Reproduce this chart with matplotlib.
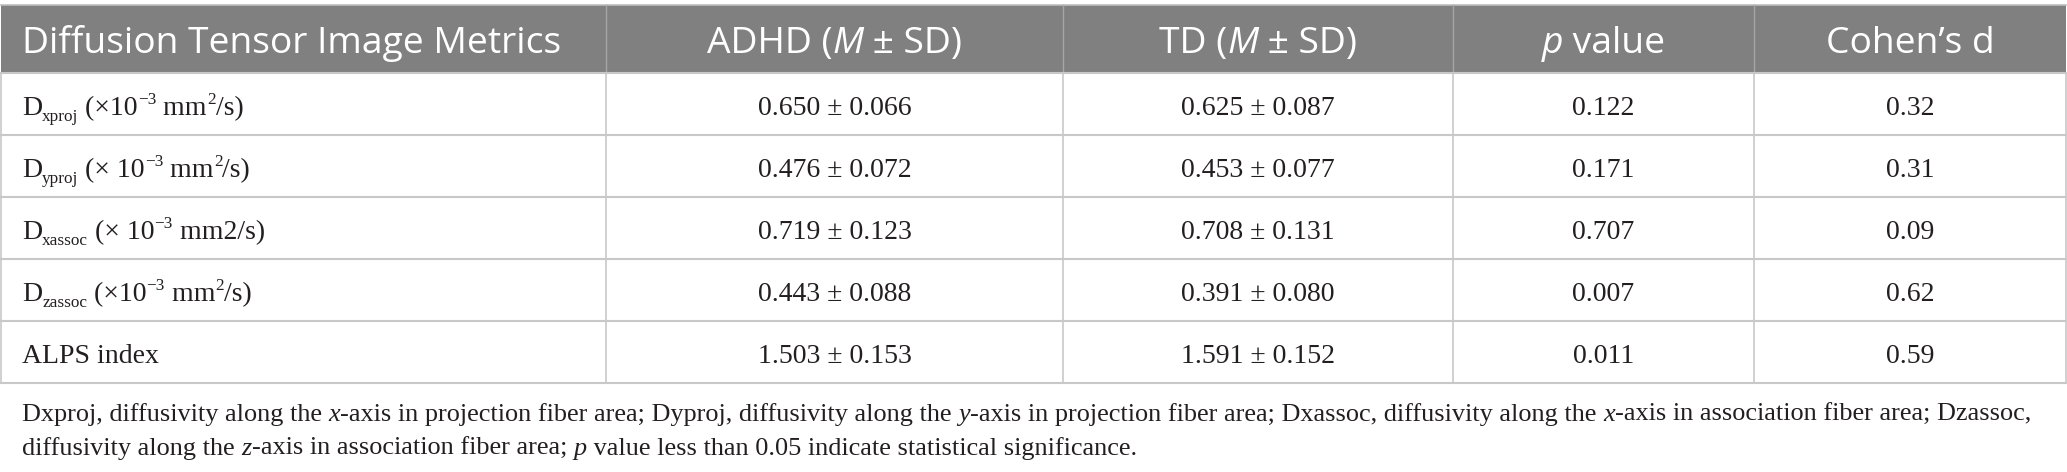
import re
import matplotlib
matplotlib.use("Agg")
import matplotlib.pyplot as plt
from matplotlib.patches import Rectangle

W, H = 2067, 472

# table content
headers = ["Diffusion Tensor Image Metrics", "ADHD (*M* ± SD)", "TD (*M* ± SD)", "*p* value", "Cohen’s d"]
metrics = [
    "D_{xproj} (×10^{−3} mm^{2}/s)",
    "D_{yproj} (× 10^{−3} mm^{2}/s)",
    "D_{xassoc} (× 10^{−3} mm2/s)",
    "D_{zassoc} (×10^{−3} mm^{2}/s)",
    "ALPS index",
]
adhd_mean = [0.650, 0.476, 0.719, 0.443, 1.503]
adhd_sd = [0.066, 0.072, 0.123, 0.088, 0.153]
td_mean = [0.625, 0.453, 0.708, 0.391, 1.591]
td_sd = [0.087, 0.077, 0.131, 0.080, 0.152]
p_values = [0.122, 0.171, 0.707, 0.007, 0.011]
cohens_d = [0.32, 0.31, 0.09, 0.62, 0.59]
footnote = [
    "Dxproj, diffusivity along the *x*-axis in projection fiber area; Dyproj, diffusivity along the *y*-axis in projection fiber area; Dxassoc, diffusivity along the *x*-axis in association fiber area; Dzassoc,",
    "diffusivity along the *z*-axis in association fiber area; *p* value less than 0.05 indicate statistical significance.",
]

# layout (pixels)
col_edges = [1, 606, 1063, 1453, 1754, 2066]
head_top, head_bot = 5, 73
row_h = 62
head_color = "#808080"
grid_color = "#c8c8c8"
text_color = "#231f20"
sans = "Open Sans"
serif = "Liberation Serif"
head_size = 26.8
body_size = 20
foot_size = 18.9

fig = plt.figure(figsize=(W / 100, H / 100), dpi=100)
ax = fig.add_axes([0, 0, 1, 1])
ax.set_xlim(0, W)
ax.set_ylim(H, 0)
ax.axis("off")
renderer = fig.canvas.get_renderer()


def parse(s):
    # split into runs: (text, kind) with kind in n, i, sub, sup
    runs = []
    for tok in re.split(r"(_\{[^}]*\}|\^\{[^}]*\}|\*[^*]*\*)", s):
        if not tok:
            continue
        if tok.startswith("_{"):
            runs.append((tok[2:-1], "sub"))
        elif tok.startswith("^{"):
            runs.append((tok[2:-1], "sup"))
        elif tok.startswith("*"):
            runs.append((tok[1:-1], "i"))
        else:
            runs.append((tok, "n"))
    return runs


def props(kind, family, size, color):
    p = dict(family=family, fontsize=size, color=color)
    if kind == "i":
        p["style"] = "italic"
    if kind in ("sub", "sup"):
        p["fontsize"] = size * 0.62
    return p


def width(s, p):
    t1 = ax.text(0, 0, "x" + s + "x", **p)
    t2 = ax.text(0, 0, "xx", **p)
    w = t1.get_window_extent(renderer).width - t2.get_window_extent(renderer).width
    t1.remove()
    t2.remove()
    return w


def draw_rich(x, y, s, family, size, color, ha="left"):
    runs = parse(s)
    ws = [width(t, props(k, family, size, color)) for t, k in runs]
    total = sum(ws)
    cx = x - total / 2 if ha == "center" else x
    for (t, k), w in zip(runs, ws):
        dy = 0
        if k == "sub":
            dy = size * 0.30
        elif k == "sup":
            dy = -size * 0.55
        ax.text(cx, y + dy, t, ha="left", va="baseline", **props(k, family, size, color))
        cx += w


# header
ax.add_patch(Rectangle((col_edges[0], head_top), col_edges[-1] - col_edges[0], head_bot - head_top,
                       facecolor=head_color, edgecolor="none"))
ax.plot([col_edges[0], col_edges[-1]], [head_top, head_top], color="#bdbdbd", lw=1.2)
for xe in col_edges[1:-1]:
    ax.plot([xe, xe], [head_top, head_bot], color="#a6a6a6", lw=1.0)
for j, h in enumerate(headers):
    if j == 0:
        draw_rich(col_edges[0] + 21, head_bot - 20, h, sans, head_size, "white")
    else:
        cx = (col_edges[j] + col_edges[j + 1]) / 2
        draw_rich(cx, head_bot - 20, h, sans, head_size, "white", ha="center")

# body
n = len(metrics)
table_bot = head_bot + n * row_h
for i in range(n + 1):
    y = head_bot + i * row_h
    ax.plot([col_edges[0], col_edges[-1]], [y, y], color=grid_color, lw=1.5)
for xe in col_edges:
    ax.plot([xe, xe], [head_bot, table_bot], color=grid_color, lw=1.2)

for i in range(n):
    base = head_bot + i * row_h + 42
    cells = [
        f"{adhd_mean[i]:.3f} ± {adhd_sd[i]:.3f}",
        f"{td_mean[i]:.3f} ± {td_sd[i]:.3f}",
        f"{p_values[i]:.3f}",
        f"{cohens_d[i]:.2f}",
    ]
    draw_rich(col_edges[0] + 21, base, metrics[i], serif, body_size, text_color)
    for j, c in enumerate(cells, start=1):
        cx = (col_edges[j] + col_edges[j + 1]) / 2
        ax.text(cx, base, c, ha="center", va="baseline", family=serif,
                fontsize=body_size, color=text_color)

# footnote
for k, line in enumerate(footnote):
    draw_rich(22, 421 + k * 34, line, serif, foot_size, text_color)

fig.savefig("out.png", dpi=100)
